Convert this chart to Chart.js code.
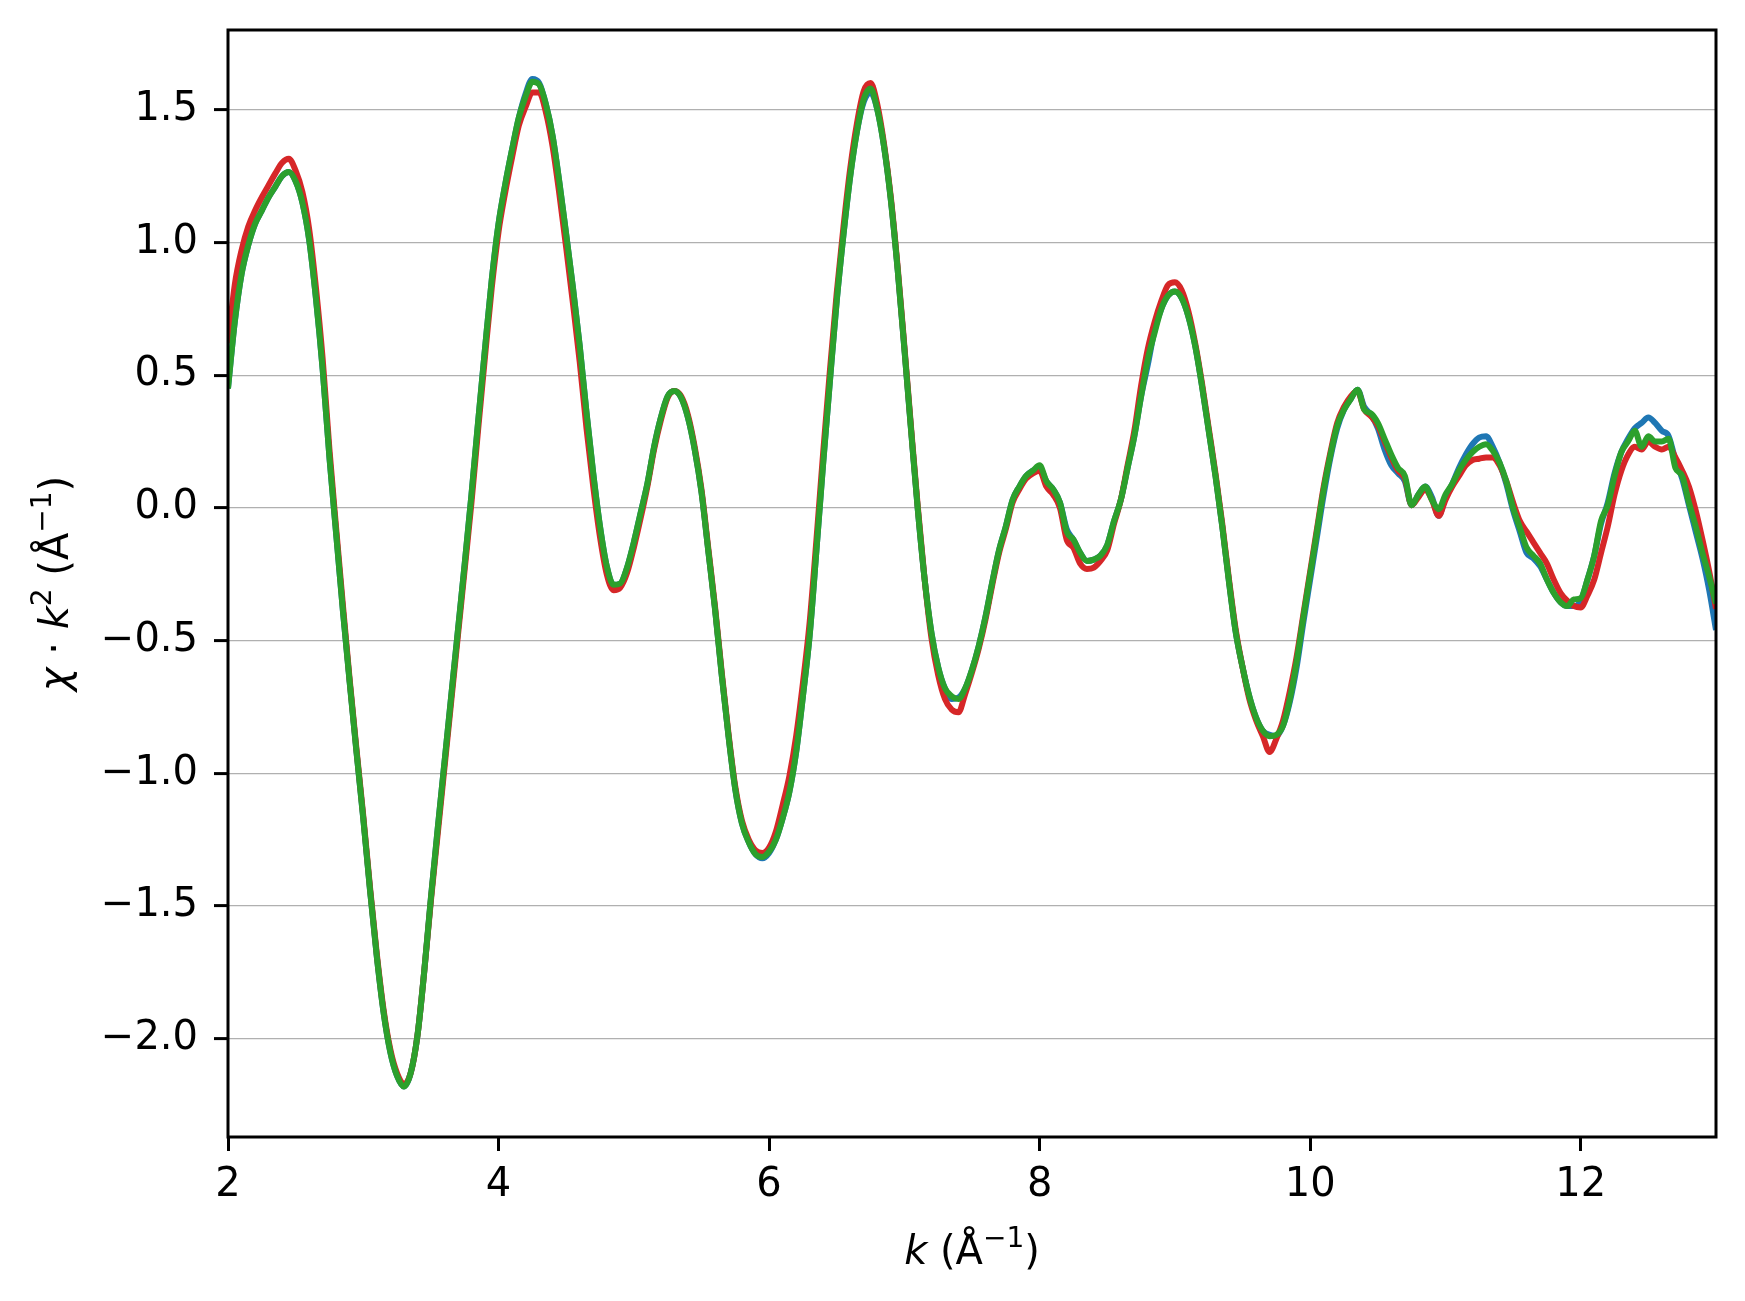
<!DOCTYPE html>
<html><head><meta charset="utf-8">
<script src="https://cdn.jsdelivr.net/npm/chart.js@4.4.0/dist/chart.umd.min.js"></script>
<style>html,body{margin:0;padding:0;background:#fff;}canvas{display:block;}</style>
</head><body>
<canvas id="c" width="1745" height="1301"></canvas>
<script>
// k grid (Å^-1): uniform sampling
const kStart = 2.0, kStep = 0.05;

// χ·k² values, one array per series (k = 2.00 … 13.00, step 0.05)
const chiBlue = [
 0.45,0.70,0.88,0.99,1.07,1.12,1.17,1.21,1.25,1.265,
 1.23,1.15,1.01,0.79,0.52,0.19,-0.10,-0.39,-0.66,-0.92,
 -1.17,-1.44,-1.69,-1.90,-2.05,-2.14,-2.18,-2.13,-1.99,-1.75,
 -1.47,-1.21,-0.96,-0.71,-0.46,-0.21,0.05,0.33,0.60,0.86,
 1.07,1.22,1.35,1.47,1.56,1.615,1.60,1.52,1.40,1.225,
 1.03,0.83,0.61,0.36,0.13,-0.07,-0.22,-0.29,-0.285,-0.225,
 -0.13,-0.02,0.09,0.23,0.34,0.42,0.44,0.415,0.34,0.22,
 0.06,-0.16,-0.38,-0.63,-0.86,-1.06,-1.19,-1.26,-1.305,-1.32,
 -1.30,-1.25,-1.17,-1.07,-0.92,-0.71,-0.48,-0.16,0.17,0.48,
 0.78,1.03,1.25,1.42,1.53,1.565,1.50,1.36,1.16,0.90,
 0.60,0.29,-0.01,-0.27,-0.47,-0.60,-0.68,-0.72,-0.715,-0.68,
 -0.61,-0.52,-0.41,-0.28,-0.16,-0.07,0.03,0.08,0.12,0.14,
 0.15,0.10,0.07,0.02,-0.08,-0.12,-0.17,-0.20,-0.195,-0.18,
 -0.14,-0.05,0.03,0.15,0.27,0.42,0.54,0.67,0.75,0.80,
 0.815,0.79,0.72,0.61,0.46,0.29,0.12,-0.07,-0.28,-0.47,
 -0.60,-0.71,-0.79,-0.84,-0.855,-0.86,-0.82,-0.73,-0.60,-0.43,
 -0.27,-0.11,0.05,0.19,0.30,0.37,0.41,0.445,0.38,0.35,
 0.30,0.22,0.16,0.13,0.10,0.01,0.05,0.08,0.04,-0.03,
 0.04,0.09,0.15,0.20,0.24,0.265,0.27,0.23,0.17,0.09,
 -0.01,-0.09,-0.17,-0.19,-0.22,-0.27,-0.32,-0.355,-0.37,-0.37,
 -0.35,-0.27,-0.18,-0.06,0.02,0.13,0.21,0.26,0.30,0.32,
 0.34,0.32,0.29,0.27,0.18,0.11,0.01,-0.09,-0.19,-0.31,
 -0.46
];
const chiRed = [
 0.62,0.84,0.97,1.06,1.12,1.17,1.215,1.26,1.30,1.315,
 1.27,1.19,1.05,0.83,0.56,0.22,-0.08,-0.37,-0.65,-0.91,
 -1.16,-1.43,-1.68,-1.89,-2.04,-2.13,-2.17,-2.13,-1.99,-1.75,
 -1.48,-1.23,-0.98,-0.73,-0.48,-0.23,0.02,0.30,0.57,0.83,
 1.04,1.19,1.32,1.44,1.51,1.565,1.565,1.49,1.36,1.18,
 0.98,0.77,0.55,0.30,0.08,-0.11,-0.25,-0.31,-0.30,-0.245,
 -0.15,-0.04,0.08,0.22,0.33,0.415,0.44,0.42,0.35,0.23,
 0.07,-0.15,-0.37,-0.62,-0.85,-1.05,-1.18,-1.25,-1.29,-1.30,
 -1.28,-1.22,-1.12,-1.01,-0.86,-0.66,-0.43,-0.12,0.21,0.52,
 0.81,1.06,1.28,1.45,1.57,1.60,1.52,1.37,1.17,0.91,
 0.61,0.30,0.00,-0.27,-0.49,-0.63,-0.72,-0.76,-0.77,-0.70,
 -0.62,-0.53,-0.42,-0.29,-0.17,-0.08,0.02,0.07,0.11,0.13,
 0.14,0.08,0.05,0.00,-0.12,-0.15,-0.21,-0.23,-0.225,-0.20,
 -0.16,-0.06,0.03,0.16,0.29,0.46,0.60,0.70,0.78,0.84,
 0.85,0.82,0.74,0.62,0.47,0.30,0.13,-0.06,-0.27,-0.46,
 -0.60,-0.72,-0.80,-0.86,-0.92,-0.87,-0.80,-0.69,-0.56,-0.40,
 -0.24,-0.08,0.08,0.21,0.32,0.38,0.42,0.44,0.37,0.345,
 0.31,0.25,0.19,0.14,0.11,0.01,0.04,0.07,0.03,-0.03,
 0.03,0.08,0.12,0.16,0.18,0.185,0.19,0.19,0.16,0.10,
 0.02,-0.05,-0.09,-0.13,-0.17,-0.21,-0.27,-0.32,-0.35,-0.37,
 -0.375,-0.33,-0.27,-0.17,-0.07,0.05,0.14,0.20,0.23,0.22,
 0.25,0.23,0.22,0.23,0.19,0.14,0.08,-0.01,-0.12,-0.24,
 -0.38
];
const chiGreen = [
 0.45,0.70,0.88,0.99,1.07,1.12,1.17,1.21,1.25,1.265,
 1.23,1.15,1.01,0.79,0.52,0.19,-0.10,-0.39,-0.66,-0.92,
 -1.17,-1.44,-1.69,-1.90,-2.05,-2.14,-2.18,-2.13,-1.99,-1.75,
 -1.47,-1.21,-0.96,-0.71,-0.46,-0.21,0.05,0.33,0.60,0.86,
 1.07,1.22,1.35,1.47,1.55,1.605,1.595,1.52,1.40,1.225,
 1.03,0.83,0.61,0.36,0.13,-0.07,-0.22,-0.29,-0.285,-0.225,
 -0.13,-0.02,0.09,0.23,0.34,0.42,0.44,0.415,0.34,0.22,
 0.06,-0.16,-0.38,-0.63,-0.86,-1.06,-1.19,-1.26,-1.305,-1.315,
 -1.295,-1.25,-1.17,-1.07,-0.92,-0.71,-0.48,-0.16,0.17,0.48,
 0.78,1.03,1.25,1.42,1.54,1.58,1.50,1.36,1.16,0.90,
 0.60,0.29,-0.01,-0.27,-0.47,-0.60,-0.68,-0.71,-0.72,-0.68,
 -0.61,-0.52,-0.41,-0.28,-0.16,-0.07,0.03,0.08,0.12,0.14,
 0.16,0.10,0.07,0.02,-0.09,-0.12,-0.17,-0.20,-0.195,-0.18,
 -0.14,-0.05,0.03,0.15,0.27,0.42,0.56,0.66,0.75,0.80,
 0.815,0.79,0.72,0.61,0.46,0.29,0.12,-0.07,-0.28,-0.47,
 -0.60,-0.71,-0.79,-0.84,-0.86,-0.855,-0.82,-0.72,-0.58,-0.41,
 -0.25,-0.09,0.07,0.20,0.31,0.37,0.41,0.445,0.37,0.355,
 0.32,0.26,0.20,0.15,0.12,0.01,0.05,0.08,0.03,-0.005,
 0.05,0.09,0.14,0.18,0.21,0.23,0.24,0.215,0.17,0.10,
 0.00,-0.075,-0.15,-0.18,-0.21,-0.27,-0.32,-0.355,-0.37,-0.345,
 -0.34,-0.27,-0.18,-0.05,0.01,0.12,0.21,0.25,0.29,0.23,
 0.27,0.25,0.25,0.26,0.15,0.12,0.02,-0.07,-0.17,-0.26,
 -0.36
];

const xTicks = [2, 4, 6, 8, 10, 12];
const yTicks = [-2.0, -1.5, -1.0, -0.5, 0.0, 0.5, 1.0, 1.5];
const xRange = [2, 13];
const yRange = [-2.37, 1.80];

const k = chiGreen.map((_, i) => +(kStart + i * kStep).toFixed(2));
const toPts = arr => arr.map((v, i) => ({x: k[i], y: v}));

const FONT = 'DejaVu Sans';
const FS = 40;

function fmtY(v) {
  const s = Math.abs(v) < 1e-9 ? '0.0' : v.toFixed(1);
  return s.replace('-', '\u2212');
}

// rich text for axis titles (italic symbols, superscripts)
function setFont(ctx, s) {
  const size = s.sup ? FS * 0.7 : FS;
  ctx.font = (s.it ? 'italic ' : '') + size + 'px "' + FONT + '"';
}
function richWidth(ctx, segs) {
  let w = 0;
  for (const s of segs) { setFont(ctx, s); w += ctx.measureText(s.t).width; }
  return w;
}
function drawRich(ctx, segs, cx, baseY) {
  const w = richWidth(ctx, segs);
  let x = cx - w / 2;
  ctx.fillStyle = '#000';
  ctx.textBaseline = 'alphabetic';
  ctx.textAlign = 'left';
  for (const s of segs) {
    setFont(ctx, s);
    ctx.fillText(s.t, x, baseY - (s.sup ? FS * 0.42 : 0));
    x += ctx.measureText(s.t).width;
  }
}
const xTitle = [{t:'k', it:true}, {t:' (Å'}, {t:'\u22121', sup:true}, {t:')'}];
const yTitle = [{t:'\u03c7', it:true}, {t:' \u00b7 '}, {t:'k', it:true}, {t:'2', sup:true}, {t:' (Å'}, {t:'\u22121', sup:true}, {t:')'}];

const framePlugin = {
  id: 'frame',
  afterDraw(chart) {
    const {ctx, chartArea: a} = chart;
    ctx.save();
    ctx.strokeStyle = '#000';
    ctx.lineWidth = 3;
    ctx.strokeRect(a.left, a.top, a.right - a.left, a.bottom - a.top);
    drawRich(ctx, xTitle, (a.left + a.right) / 2, 1264);
    ctx.translate(68, (a.top + a.bottom) / 2);
    ctx.rotate(-Math.PI / 2);
    drawRich(ctx, yTitle, 0, 0);
    ctx.restore();
  }
};

new Chart(document.getElementById('c'), {
  type: 'line',
  data: {
    datasets: [
      {data: toPts(chiBlue), borderColor: '#1f77b4', order: 2},
      {data: toPts(chiRed), borderColor: '#d62728', order: 1},
      {data: toPts(chiGreen), borderColor: '#2ca02c', order: 0}
    ]
  },
  options: {
    responsive: false,
    animation: false,
    devicePixelRatio: 1,
    layout: {padding: {left: 0, top: 30, right: 29, bottom: 0}},
    plugins: {legend: {display: false}, tooltip: {enabled: false}},
    elements: {
      point: {radius: 0},
      line: {borderWidth: 6, cubicInterpolationMode: 'monotone', fill: false}
    },
    scales: {
      x: {
        type: 'linear', min: xRange[0], max: xRange[1],
        afterBuildTicks: s => { s.ticks = xTicks.map(v => ({value: v})); },
        afterFit: s => { s.height = 164; s.paddingLeft = 0; s.paddingRight = 0; },
        grid: {display: true, drawOnChartArea: false, drawTicks: true, tickLength: 14, tickColor: '#000', tickWidth: 3},
        border: {display: false},
        ticks: {autoSkip: false, maxRotation: 0, padding: 11, color: '#000',
                font: {family: FONT, size: FS}, callback: v => String(v)}
      },
      y: {
        type: 'linear', min: yRange[0], max: yRange[1],
        afterBuildTicks: s => { s.ticks = yTicks.map(v => ({value: v})); },
        afterFit: s => { s.width = 228; s.paddingTop = 0; s.paddingBottom = 0; },
        grid: {color: '#b0b0b0', lineWidth: 1.2, drawTicks: true, tickLength: 14, tickColor: '#000', tickWidth: 3},
        border: {display: false},
        ticks: {autoSkip: false, padding: 16, color: '#000',
                font: {family: FONT, size: FS}, callback: v => fmtY(v)}
      }
    }
  },
  plugins: [framePlugin]
});
</script>
</body></html>
